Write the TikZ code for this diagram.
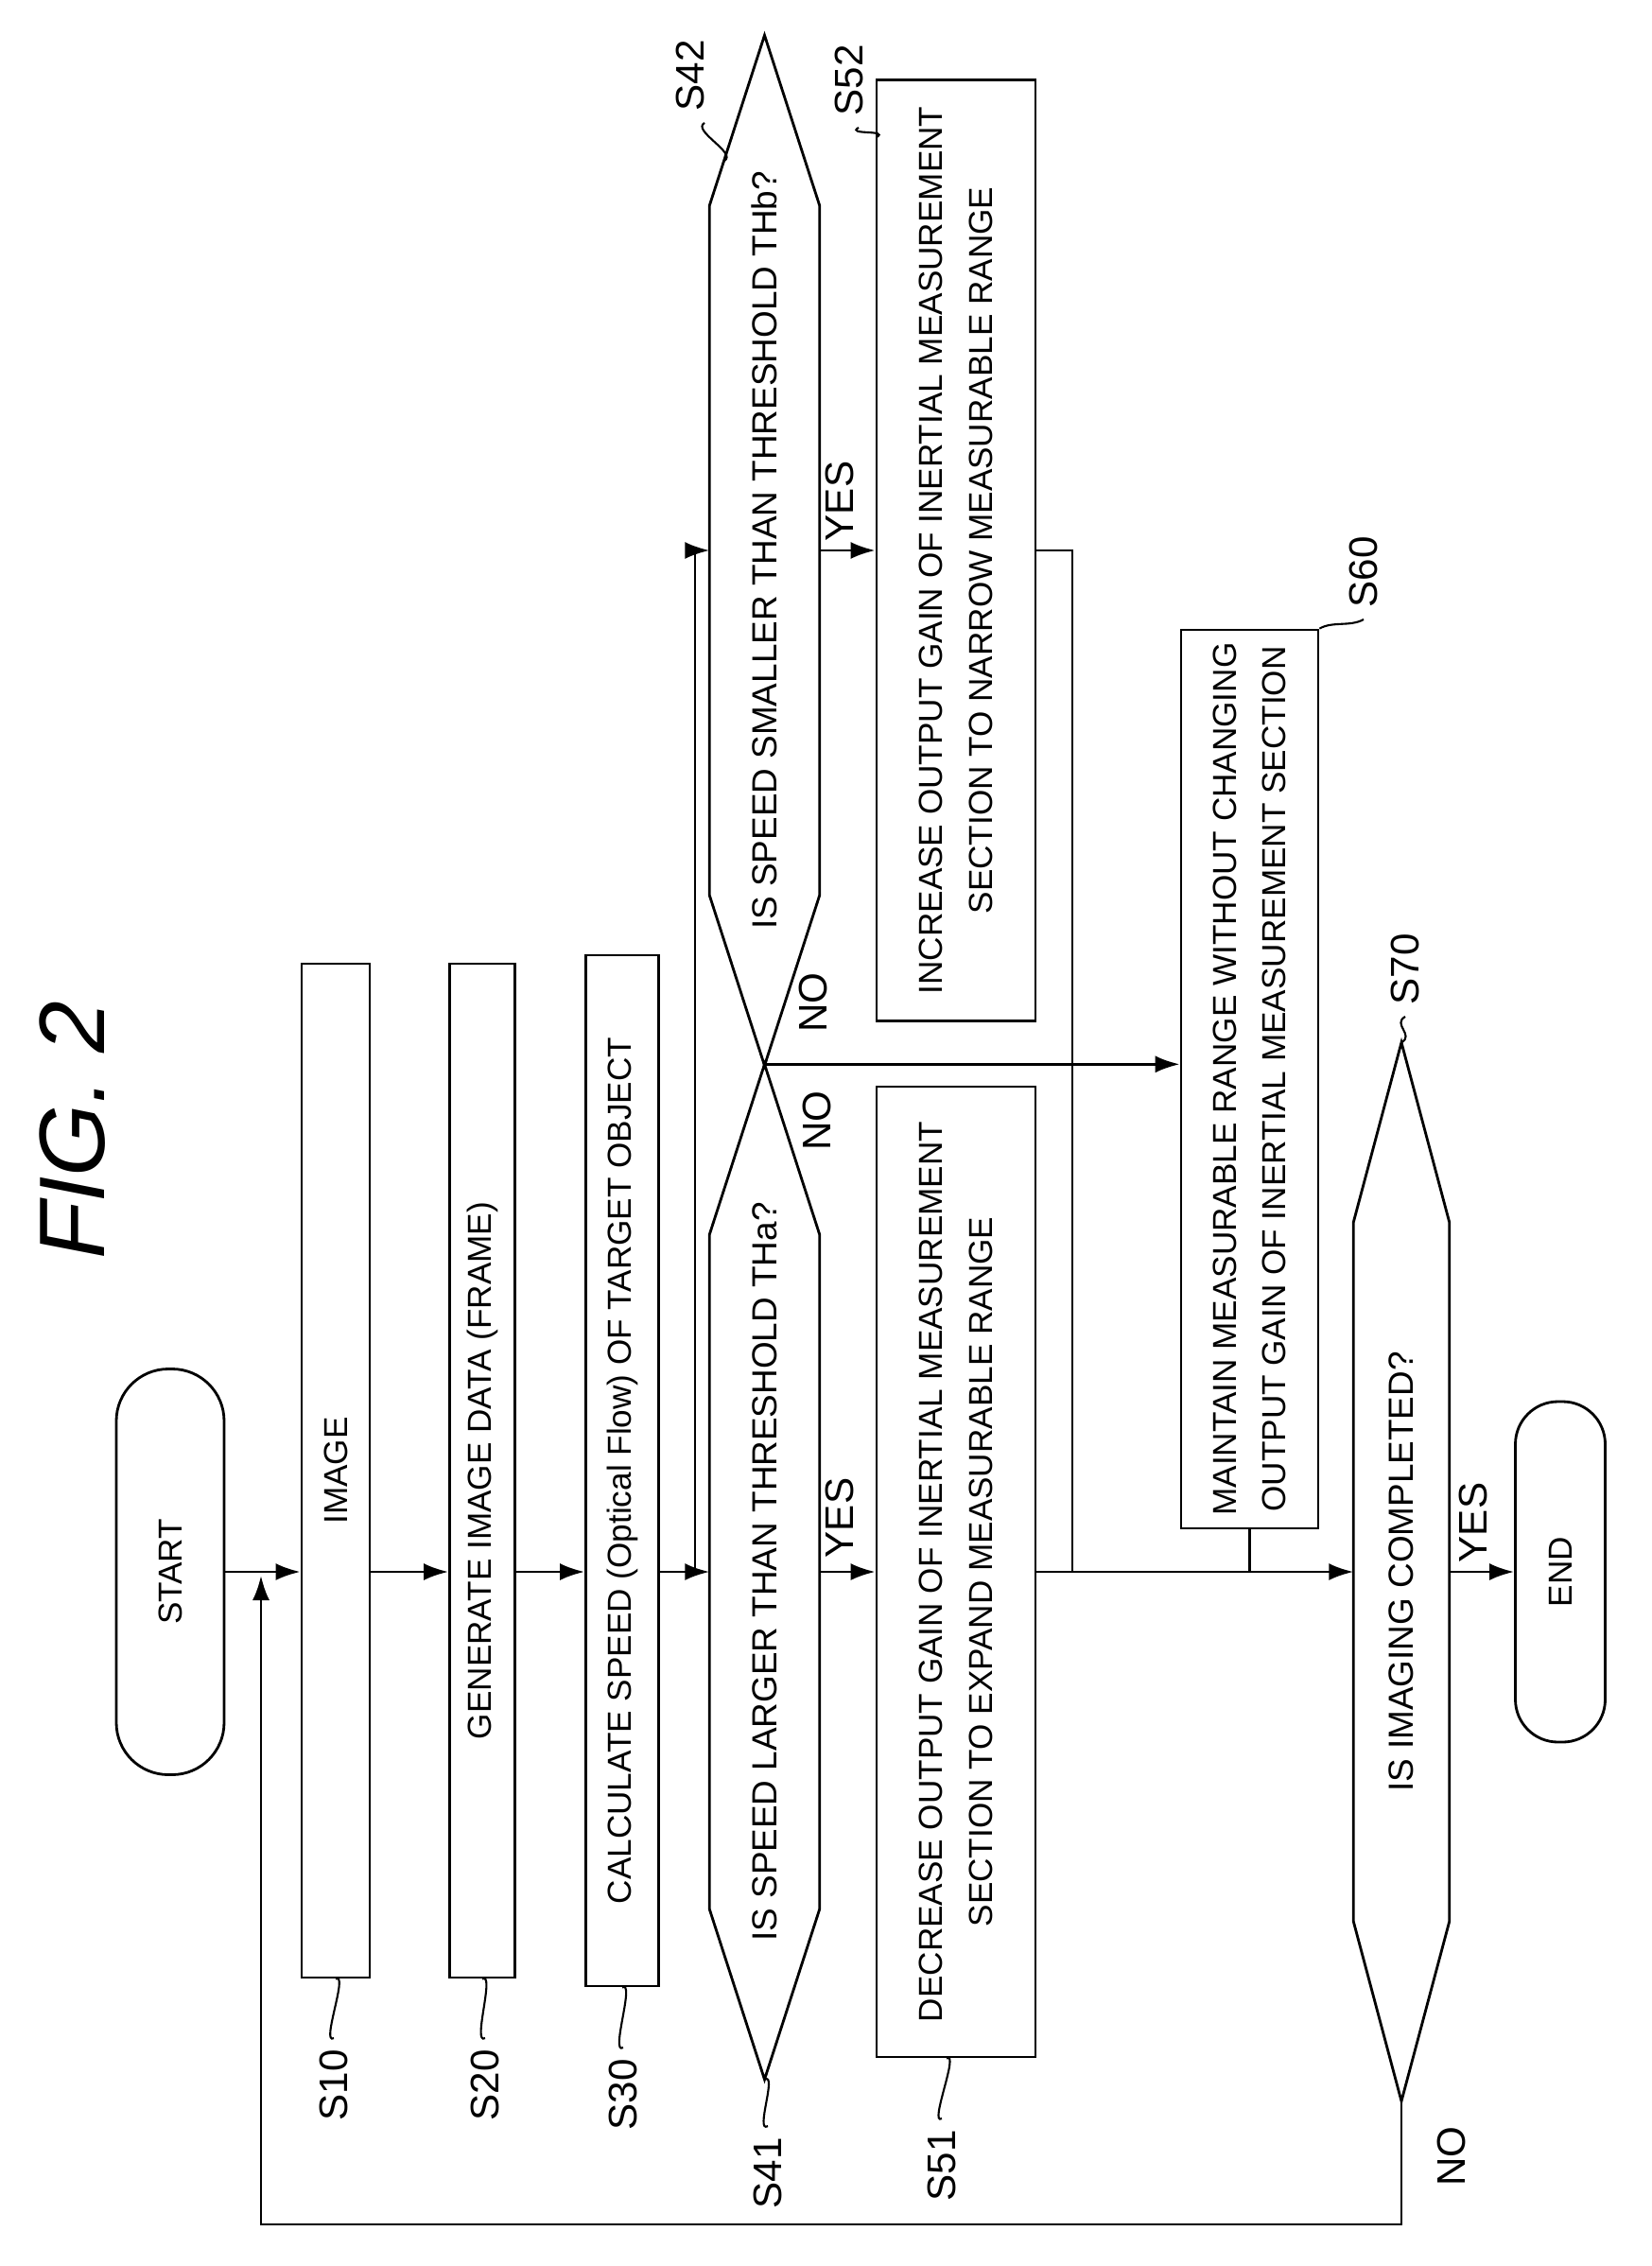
\documentclass[tikz,border=0pt]{standalone}
\usepackage{fontspec}
\setmainfont{Liberation Sans}
\usetikzlibrary{calc,arrows.meta}

\tikzset{
  box/.style={draw,line width=0.8pt,rotate=90,inner sep=0pt,align=center,
    font=\fontsize{10}{15}\selectfont},
  term/.style={box,rounded corners=5.5mm},
  hexa/.style={rotate=90,inner sep=0pt,align=center,font=\fontsize{10.5}{15}\selectfont},
  arr/.style={-{Latex[length=2.6mm,width=1.8mm]},line width=0.8pt},
  ln/.style={line width=0.8pt},
  lbl/.style={rotate=90,font=\fontsize{12}{14}\selectfont},
  leader/.style={line width=0.6pt}
}
\newcommand{\hexpath}[2]{%
  \draw[ln] (#1.east) -- ($(#1.north east)+(0,-#2)$) -- ($(#1.north west)+(0,#2)$)
    -- (#1.west) -- ($(#1.south west)+(0,#2)$) -- ($(#1.south east)+(0,-#2)$) -- cycle;}
\newcommand{\stepmark}[2]{\draw[leader] (#1) .. controls +(0.14,0.08) and +(-0.14,-0.08) .. (#2);}

\begin{document}
\begin{tikzpicture}
  \useasboundingbox (0,0) rectangle (17.46,-23.96);
  \node[rotate=90,font=\fontsize{28}{30}\selectfont\itshape] (fig) at (0.77,-11.95) {FIG. 2};

  % process steps
  \node[term,minimum width=4.29cm,minimum height=1.14cm] (start) at (1.80,-16.62) {START};
  \node[box,minimum width=10.72cm,minimum height=0.72cm] (s10) at (3.55,-15.55) {IMAGE};
  \node[box,minimum width=10.72cm,minimum height=0.69cm] (s20) at (5.10,-15.55) {GENERATE IMAGE DATA (FRAME)};
  \node[box,minimum width=10.90cm,minimum height=0.77cm] (s30) at (6.58,-15.55) {CALCULATE SPEED (Optical Flow) OF TARGET OBJECT};
  \node[hexa,minimum width=10.72cm,minimum height=1.15cm] (s41) at (8.085,-16.62) {IS SPEED LARGER THAN THRESHOLD THa?};
  \node[hexa,minimum width=10.88cm,minimum height=1.15cm] (s42) at (8.085,-5.82) {IS SPEED SMALLER THAN THRESHOLD THb?};
  \node[box,minimum width=10.26cm,minimum height=1.68cm] (s51) at (10.11,-16.62)
    {DECREASE OUTPUT GAIN OF INERTIAL MEASUREMENT\\SECTION TO EXPAND MEASURABLE RANGE};
  \node[box,minimum width=9.95cm,minimum height=1.68cm] (s52) at (10.11,-5.82)
    {INCREASE OUTPUT GAIN OF INERTIAL MEASUREMENT\\SECTION TO NARROW MEASURABLE RANGE};
  \node[box,minimum width=9.50cm,minimum height=1.45cm] (s60) at (13.215,-11.41)
    {MAINTAIN MEASURABLE RANGE WITHOUT CHANGING\\OUTPUT GAIN OF INERTIAL MEASUREMENT SECTION};
  \node[hexa,minimum width=11.18cm,minimum height=1.0cm] (s70) at (14.82,-16.62) {IS IMAGING COMPLETED?};
  \node[term,rounded corners=4.5mm,minimum width=3.60cm,minimum height=0.95cm] (end) at (16.50,-16.62) {END};
  \hexpath{s41}{1.8}
  \hexpath{s42}{1.8}
  \hexpath{s70}{1.9}

  % connectors
  \coordinate (br) at (7.35,-16.62);
  \coordinate (j52) at (11.34,-5.82);
  \coordinate (lb) at (14.82,-23.52);
  \coordinate (lc) at (2.76,-23.52);
  \coordinate (ld) at (2.76,-16.66);
  \draw[arr] (start.south) -- (start.south -| s10.north);
  \draw[arr] (s10.south |- start.south) -- (start.south -| s20.north);
  \draw[arr] (s20.south |- start.south) -- (start.south -| s30.north);
  \draw[arr] (s30.south |- start.south) -- (start.south -| s41.north);
  \draw[arr] (br) |- (s42.north);
  \draw[arr] (s41.south) -- (s51.north);
  \draw[arr] (s42.south) -- (s52.north);
  \draw[arr] (s41.east) -- (s41.east -| s60.north);
  \draw[arr] (s51.south) -- (s70.north);
  \draw[ln] (s52.south) -- (j52) -- (j52 |- s70.north);
  \draw[ln] (s60.west) -- (s60.west |- s70.north);
  \draw[arr] (s70.south) -- (end.north);
  \draw[arr] (s70.west) -- (lb) -- (lc) -- (ld);

  % branch labels
  \node[lbl] (y41) at (8.88,-16.05) {YES};
  \node[lbl] (y42) at (8.88,-5.30) {YES};
  \node[lbl] (n42) at (8.60,-10.60) {NO};
  \node[lbl] (n41) at (8.64,-11.85) {NO};
  \node[lbl] (y70) at (15.58,-16.10) {YES};
  \node[lbl] (n70) at (15.35,-22.80) {NO};

  % step labels
  \node[lbl] (l10) at (3.53,-22.05) {S10};
  \node[lbl] (l20) at (5.13,-22.05) {S20};
  \node[lbl] (l30) at (6.59,-22.15) {S30};
  \node[lbl] (l41) at (8.12,-22.98) {S41};
  \node[lbl] (l51) at (9.96,-22.90) {S51};
  \node[lbl] (l42) at (7.30,-0.80) {S42};
  \node[lbl] (l52) at (8.98,-0.85) {S52};
  \node[lbl] (l60) at (14.42,-6.05) {S60};
  \node[lbl] (l70) at (14.86,-10.25) {S70};
  \stepmark{s10.west}{l10.east}
  \stepmark{s20.west}{l20.east}
  \stepmark{s30.west}{l30.east}
  \stepmark{s41.west}{l41.east}
  \stepmark{$(s51.west)+(-0.1,0)$}{l51.east}
  \stepmark{7.66,-1.70}{$(l42.west)+(0.15,0)$}
  \stepmark{9.27,-1.45}{$(l52.west)+(0.1,0)$}
  \stepmark{s60.south east}{l60.west}
  \stepmark{s70.east}{l70.west}
\end{tikzpicture}
\end{document}
